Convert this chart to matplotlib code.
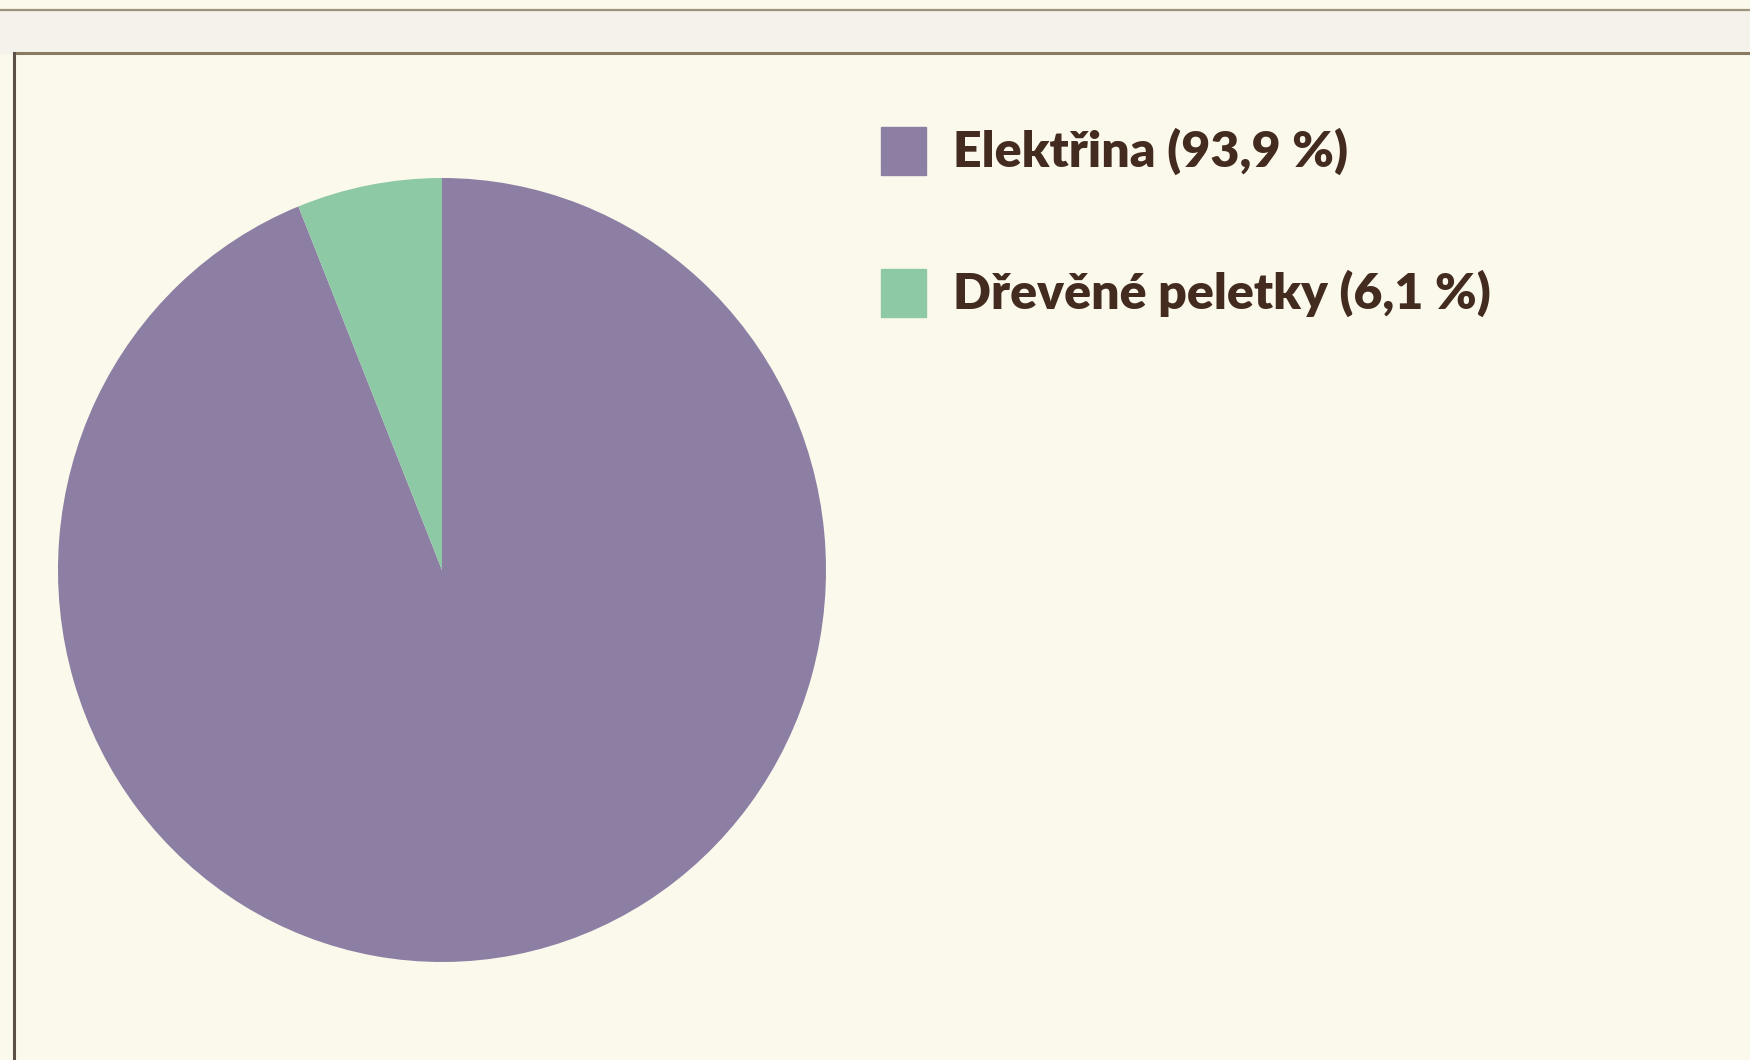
import matplotlib.pyplot as plt
import matplotlib.patches as patches
from matplotlib.lines import Line2D

labels = ['Elektřina', 'Dřevěné peletky']
shares = [93.9, 6.1]
colors = ['#8c7fa3', '#8ec9a6']

W, H = 1750, 1060
bg = '#fbf9ec'
text_color = '#432b1f'

fig = plt.figure(figsize=(W / 100, H / 100), dpi=100, facecolor=bg)


def fx(px):
    return px / W


def fy(py):
    return 1 - py / H


# frame lines (top strip and chart border)
line_col = '#8a7a62'
fig.add_artist(Line2D([0, 1], [fy(10), fy(10)], color=line_col, lw=1.6, alpha=0.8))
fig.add_artist(Line2D([fx(14), 1], [fy(53), fy(53)], color=line_col, lw=2.2))
fig.add_artist(Line2D([fx(14), fx(14)], [fy(53), 0], color='#5a5048', lw=2.2))
fig.add_artist(patches.Rectangle((0, fy(53)), 1, fy(10) - fy(53), transform=fig.transFigure,
                                 color='#f4f2ea', zorder=-1))

# pie (photo is slightly taller than wide)
cx, cy, rx, ry = 442, 570, 384, 392
ax = fig.add_axes([fx(cx - rx), fy(cy + ry), 2 * rx / W, 2 * ry / H])
ax.pie(shares, colors=colors, startangle=90, counterclock=False)
ax.set_aspect('auto')
ax.set_xlim(-1, 1)
ax.set_ylim(-1, 1)
ax.set_facecolor('none')

# legend
ys = [151, 293]
for lab, val, col, y in zip(labels, shares, colors, ys):
    fig.add_artist(patches.Rectangle((fx(881), fy(y + 24)), 45 / W, 48 / H,
                                     transform=fig.transFigure, color=col))
    txt = f"{lab} ({str(val).replace('.', ',')} %)"
    fig.text(fx(953), fy(y), txt, fontsize=36, fontweight='heavy', family='Lato',
             color=text_color, va='center', ha='left')

fig.savefig('out.png', dpi=100, facecolor=bg)
